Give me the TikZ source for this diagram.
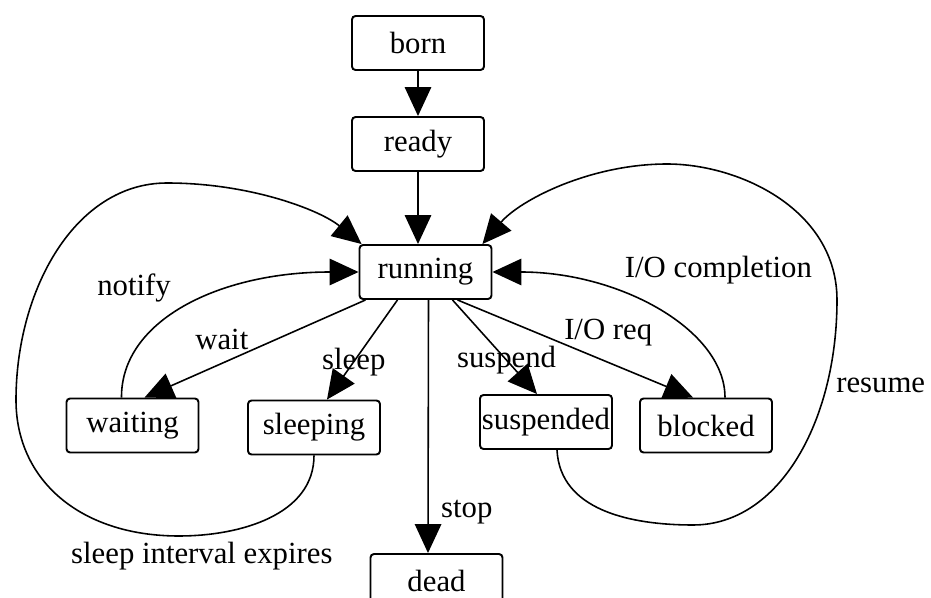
\documentclass[tikz,border=0pt]{standalone}
\usepackage{fontspec}
\setmainfont{Liberation Serif}
\usetikzlibrary{arrows.meta,calc}

\begin{document}
\begin{tikzpicture}[x=0.02cm, y=-0.02cm,
    font=\fontsize{17.5}{20}\selectfont,
    >={Triangle[length=0.58cm,width=0.53cm]},
    state/.style={draw, rounded corners=2pt, line width=1.1pt,
      minimum width=2.64cm, minimum height=1.08cm, inner sep=1pt},
    trans/.style={->, line width=0.9pt},
    every node/.append style={inner sep=1pt}]
  \useasboundingbox (0,0) rectangle (931,598);
  \clip (0,0) rectangle (931,598);
  \node[state] (born) at (418,43) {born};
  \node[state] (ready) at (418,144) {ready};
  \node[state] (running) at (425.5,272) {running};
  \node[state] (waiting) at (132.5,425.5) {waiting};
  \node[state] (sleeping) at (314,427.5) {sleeping};
  \node[state] (suspended) at (546,422) {suspended};
  \node[state] (blocked) at (706,425.5) {blocked};
  \node[state] (dead) at (436.5,581) {dead};
  \draw [trans] (born) -- (ready);
  \draw [trans] (ready.south) -- (ready.south |- running.north);
  \draw [trans] ($(running.south)+(-60,0)$) -- ($(waiting.north)+(12,0)$)
    node [pos=0.65, above=6pt] {wait};
  \draw [trans] ($(running.south)+(-28,0)$) -- ($(sleeping.north)+(13,0)$)
    node [pos=0.62] {sleep};
  \draw [trans] ($(running.south)+(27,0)$) -- ($(suspended.north)+(-9,0)$)
    node [pos=0.64] {suspend};
  \draw [trans] ($(running.south)+(32,0)$) -- ($(blocked.north)+(-13,0)$)
    node [pos=0.64, above=8pt] {I/O req};
  \draw [trans] ($(running.south)+(3,0)$) -- ($(dead.north)+(-8.5,0)$)
    node [pos=0.84, right=6pt] {stop};
  % way back to running
  \draw [trans] ($(waiting.north)+(-11,0)$) .. controls (121,320) and (220,272)
    .. (running.west) node [pos=0.3, above=18pt, xshift=-7pt] {notify};
  \draw [trans] (sleeping.south) .. controls (314,515) and (240,536) .. (179,536)
    node [below=2pt, xshift=13pt] {sleep interval expires}
    .. controls (80,536) and (16,480) .. (16,400)
    .. controls (16,290) and (75,183) .. (167,183)
    .. controls (250,183) and (320,210) .. ($(running.north west)+(3,0)$);
  \draw [trans] ($(blocked.north)+(19,0)$) .. controls (725,330) and (620,272)
    .. (running.east) node [pos=0.6, anchor=south west, yshift=6pt, xshift=-4pt] {I/O completion};
  \draw [trans] ($(suspended.south)+(11,0)$) .. controls (560,510) and (630,525) .. (693,525)
    .. controls (780,525) and (837,420) .. (837,300) node [pos=0.75, right=4pt] {resume}
    .. controls (837,210) and (740,164) .. (667,164)
    .. controls (590,164) and (520,200) .. ($(running.north east)+(-10,0)$);
\end{tikzpicture}
\end{document}
